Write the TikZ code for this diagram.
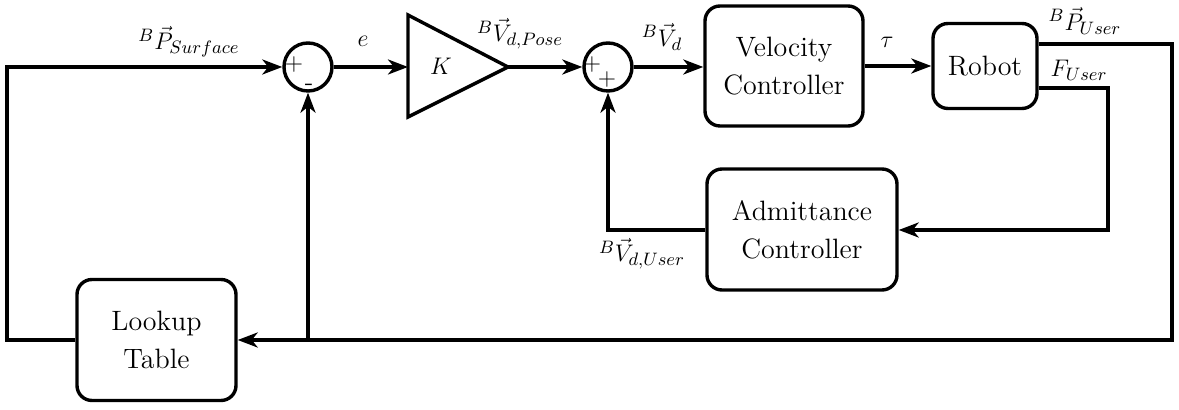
\documentclass[tikz,border=0pt]{standalone}
\usetikzlibrary{arrows.meta}
\begin{document}
\begin{tikzpicture}[x=0.5pt,y=-0.5pt,
  line width=1.7pt,
  blk/.style={draw, rounded corners=7.5pt, align=center, font=\rmfamily\fontsize{14}{19}\selectfont, inner sep=0pt},
  sumc/.style={draw, circle, minimum size=24pt, inner sep=0pt},
  lbl/.style={font=\fontsize{12.5}{14}\selectfont, inner sep=0pt},
  sgn/.style={font=\fontsize{13}{13}\selectfont, inner sep=0pt},
  arr/.style={-{Stealth[length=10pt,width=7.5pt,inset=3pt]}},
]
\useasboundingbox (0,0) rectangle (1179,410);
% blocks
\node[blk, minimum width=79pt, minimum height=60pt] (vc) at (784,66) {Velocity\\Controller};
\node[blk, minimum width=52pt, minimum height=42.5pt] (robot) at (985,66) {Robot};
\node[blk, minimum width=95pt, minimum height=60.5pt] (ac) at (802,229.5) {Admittance\\Controller};
\node[blk, minimum width=79.5pt, minimum height=60.5pt] (lt) at (156.5,340) {Lookup\\Table};
\node[sumc] (s1) at (308,67) {};
\node[sumc] (s2) at (608,67) {};
% gain triangle
\draw[line join=miter] (408,15) -- (508,67) -- (408,117) -- cycle;
\coordinate (kin) at (408,67);
\coordinate (kout) at (508,67);
\node[lbl] (k) at (441,66) {$K$};
% signs
\node[sgn] (s1p) at (294,65) {$+$};
\node[sgn] (s1m) at (309,87) {-};
\node[sgn] (s2p1) at (592,65) {$+$};
\node[sgn] (s2p2) at (607,80) {$+$};
% helper coordinates
\coordinate (tl) at (7,67);
\coordinate (br) at (1172,340);
\coordinate (fc) at (1108,230);
% connectors
\draw[arr] (s1.east) -- (kin);
\draw[arr] (kout) -- (s2.west);
\draw[arr] (s2.east) -- (s2.east -| vc.west);
\draw[arr] (vc.east) -- (vc.east -| robot.west);
\draw[arr] ([yshift=11pt]robot.east) -| (br) -- (br -| lt.east);
\draw[arr] (br -| s1) -- (s1.south);
\draw[arr] ([yshift=-11pt]robot.east) -| (fc) -- (fc -| ac.east);
\draw[arr] (fc -| ac.west) -| (s2.south);
\draw[arr] (lt.west) -| (tl) -- (s1.west);
% labels
\node[lbl] (lps) at (189,42) {$^B\vec{P}_{Surface}$};
\node[lbl] (le) at (363,41) {$e$};
\node[lbl] (lvp) at (520,34) {$^B\vec{V}_{d,Pose}$};
\node[lbl] (lvd) at (662,37) {$^B\vec{V}_{d}$};
\node[lbl] (ltau) at (887,42) {$\tau$};
\node[lbl] (lpu) at (1085,21) {$^B\vec{P}_{User}$};
\node[lbl] (lfu) at (1079,70) {$F_{User}$};
\node[lbl] (lvu) at (642,254) {$^B\vec{V}_{d,User}$};
\end{tikzpicture}
\end{document}
